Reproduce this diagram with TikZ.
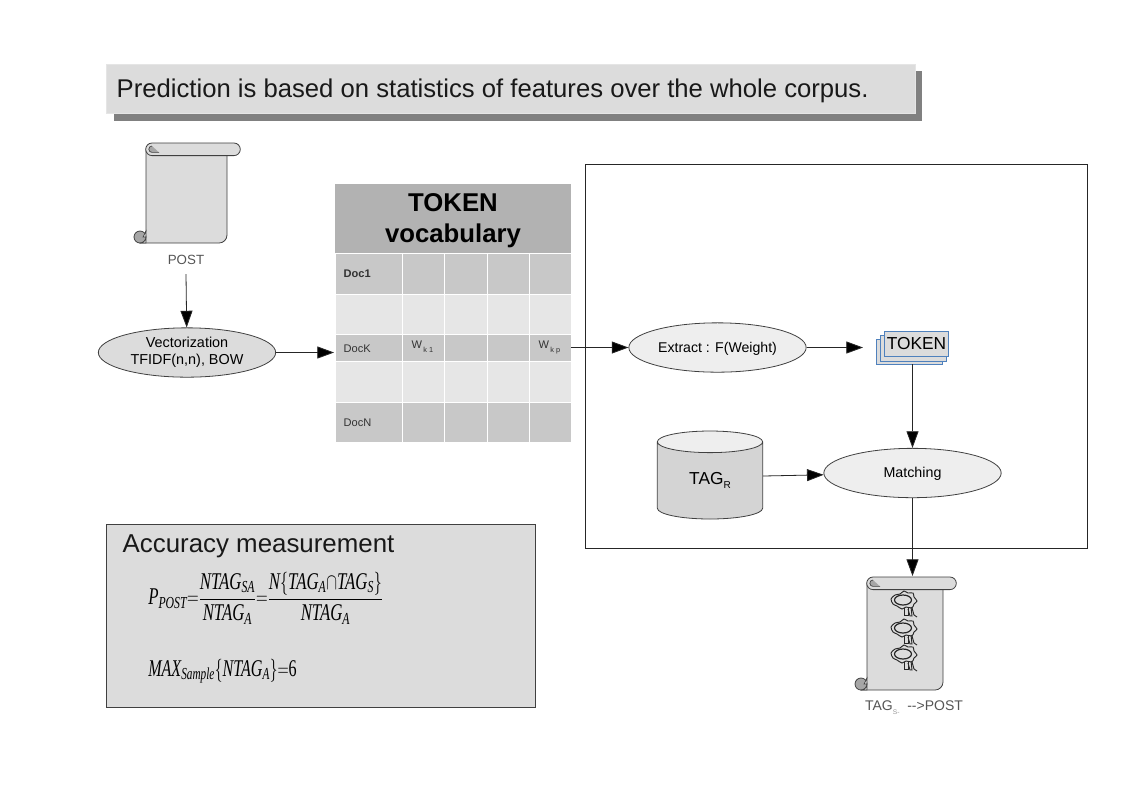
\documentclass[tikz,border=0pt]{standalone}
\usepackage{amsmath}
\usepackage{graphicx}
\usepackage{fontspec}
\setmainfont{Liberation Sans}
\newfontfamily\formfont{Liberation Serif}
\usetikzlibrary{arrows.meta,shapes.geometric}

\definecolor{boxgray}{HTML}{DCDCDC}
\definecolor{shadowgray}{HTML}{808080}
\definecolor{headgray}{HTML}{B2B2B2}
\definecolor{rowdark}{HTML}{C8C8C8}
\definecolor{rowlight}{HTML}{E6E6E6}
\definecolor{ovallight}{HTML}{EEEEEE}
\definecolor{labelgray}{HTML}{555555}
\definecolor{stackblue}{HTML}{4F81BD}

\tikzset{
  link/.style={draw=black!85,line width=0.6pt,-{Triangle[length=12.5pt,width=9pt,fill=black]}},
  oval/.style={ellipse,draw=black!75,line width=0.6pt,minimum width=133pt,minimum height=37pt,inner sep=0pt,align=center},
  stacksheet/.style={draw=stackblue,fill=boxgray,line width=0.6pt},
  cellname/.style={font=\fontsize{8.3pt}{10pt}\selectfont,text=black!80,anchor=west}
}

% x, y of the body corner, width, height of the body
\newcommand{\drawscroll}[4]{
\draw[fill=boxgray,draw=black!75,line width=0.6pt] (#1,#2+6) -- (#1+#3,#2+6) -- (#1+#3,#2+#4-8)
  arc[start angle=0,end angle=90,radius=8] -- (#1-6,#2+#4) -- (#1,#2+#4-12) -- cycle;
\draw[fill=black!35,draw=black!75,line width=0.6pt] (#1-6,#2+#4-6) circle[radius=6];
\draw[fill=boxgray,draw=black!75,line width=0.5pt] (#1,#2+#4-12) -- (#1,#2+#4) -- (#1-6,#2+#4)
  arc[start angle=90,end angle=0,radius=6] -- (#1-3,#2+#4-6) -- cycle;
\draw[fill=boxgray,draw=black!75,line width=0.6pt] (#1+6,#2) -- (#1+#3+7,#2) arc[start angle=270,end angle=450,radius=6.3]
  -- (#1+6,#2+12.6) arc[start angle=90,end angle=270,radius=6.3] -- cycle;
\draw[fill=black!35,draw=black!75,line width=0.5pt] (#1+6,#2+3) arc[start angle=270,end angle=90,radius=3.2] -- (#1+13,#2+9.4);
}

% one of the small figures on the lower scroll
\newcommand{\drawblob}[2]{
\begin{scope}[shift={(#1,#2)},draw=black!85,line width=0.7pt]
\draw plot[smooth cycle,tension=0.5] coordinates {(-13,-1) (-9,-5) (-4,-6) (0,-9) (4,-7) (9,-7) (10,-3) (13,1) (10,4) (8,8) (2,7) (-2,9) (-7,6) (-11,4)};
\draw[line width=0.9pt] (-1,0) ellipse[x radius=8.5,y radius=5];
\draw (0,8) -- (0,15) -- (4,15) -- (4,7);
\draw (4,9) -- (6,16) -- (8,16) -- (7,7);
\draw (8,8) -- (10,15) -- (13,17);
\end{scope}
}

\newcommand{\ft}[1]{\text{\formfont\itshape #1}}

\begin{document}
\begin{tikzpicture}[x=0.75pt,y=-0.75pt]
\useasboundingbox (0,0) rectangle (1123,794);
\fill[white] (0,0) rectangle (1123,794);

% title
\fill[shadowgray] (114,71) rectangle (922,121);
\draw[fill=boxgray,draw=black!10,line width=0.5pt] (106,64) rectangle (915,113);
\node[anchor=west,font=\fontsize{19.25pt}{24pt}\selectfont,text=black!90] (title) at (112,91) {Prediction is based on statistics of features over the whole corpus.};

% post
\drawscroll{146}{143}{81}{100}
\node[font=\fontsize{10pt}{12pt}\selectfont,text=labelgray] (post) at (186,260) {POST};
\node[oval,fill=boxgray,font=\fontsize{10.8pt}{12.5pt}\selectfont] (vector) at (187,352.5) {Vectorization\\TFIDF(n,n), BOW};
\draw[link] (post) ++(0,14) -- (vector);

% table
\fill[headgray] (335,184) rectangle (571,253);
\node[font=\bfseries\fontsize{19.3pt}{23pt}\selectfont,align=center] (vocab) at (453,221) {TOKEN\\vocabulary};
\foreach \ytop/\ybot/\rowcol in {253/294/rowdark,294/334.5/rowlight,334.5/361/rowdark,361/402/rowlight,402/442/rowdark}
  \foreach \xleft/\xright in {335/402.5,402.5/444.5,444.5/487,487/529.5,529.5/571}
    \draw[fill=\rowcol,draw=white,line width=0.7pt] (\xleft,\ytop) rectangle (\xright,\ybot);
\node[cellname,font=\bfseries\fontsize{8.3pt}{10pt}\selectfont] (doc1) at (339,273.5) {Doc1};
\node[cellname] (dock) at (339,348.5) {DocK};
\node[cellname] (docn) at (339,422.5) {DocN};
\node[cellname] (wk1) at (407,347) {W\raisebox{-3pt}{\fontsize{5.5pt}{6pt}\selectfont\,k 1}};
\node[cellname] (wkp) at (534,347) {W\raisebox{-3pt}{\fontsize{5.5pt}{6pt}\selectfont\,k p}};
\coordinate (tablein) at (334,352.5);
\coordinate (tableout) at (571,347.5);
\draw[link] (vector) -- (tablein);

% matching frame
\draw[draw=black!85,line width=0.6pt] (585,164) rectangle (1087,548);
\node[oval,fill=ovallight,font=\fontsize{10.6pt}{12pt}\selectfont] (extract) at (717.5,347.5) {\raisebox{-3.7pt}[0pt][0pt]{Extract : F(Weight)}};
\draw[link] (tableout) -- (extract);
\draw[stacksheet] (876,339) rectangle (942,364);
\draw[stacksheet] (880,335) rectangle (946,361);
\node[stacksheet,draw,minimum width=48pt,minimum height=19pt,inner sep=0pt,font=\fontsize{13pt}{15pt}\selectfont] (token) at (916.5,344) {TOKEN};
\coordinate (tokenin) at (863,347.5);
\coordinate (tokenout) at (912.5,364);
\draw[link] (extract) -- (tokenin);
\node[oval,fill=ovallight,font=\fontsize{10.7pt}{12pt}\selectfont] (matching) at (912.5,473) {\raisebox{-3.7pt}[0pt][0pt]{Matching}};
\draw[link] (tokenout) -- (matching);
\node[cylinder,shape border rotate=90,aspect=0.52,anchor=shape center,draw=black!75,line width=0.6pt,cylinder uses custom fill,cylinder body fill=black!17,cylinder end fill=ovallight,minimum width=79pt,minimum height=66pt,inner sep=0pt,font=\fontsize{13pt}{15pt}\selectfont] (tagr) at (710,475) {\raisebox{-3.15pt}[0pt][0pt]{TAG\raisebox{-3pt}{\fontsize{7.5pt}{9pt}\selectfont R}}};
\coordinate (tagrout) at (763,476);
\draw[link] (tagrout) -- (matching);

% lower scroll
\drawscroll{867}{577}{76}{113}
\drawblob{904}{600}
\drawblob{904}{628}
\drawblob{904}{654}
\coordinate (scrollin) at (912.5,576);
\draw[link] (matching) -- (scrollin);
\node[font=\fontsize{10.5pt}{12pt}\selectfont,text=labelgray] (tags) at (914,708) {TAG\raisebox{-3pt}{\fontsize{5pt}{6pt}\selectfont\color{black!40} S-}\ \ -{}->POST};

% accuracy
\draw[fill=boxgray,draw=black!75,line width=0.6pt] (106,524) rectangle (535,707);
\node[anchor=west,font=\fontsize{19.4pt}{22pt}\selectfont,text=black!90] (accuracy) at (118,546) {Accuracy measurement};
\node[anchor=west,inner sep=0pt] (ppost) at (148,598) {\scalebox{0.7}[1]{\fontsize{18pt}{21pt}\selectfont $\ft{P}_{\ft{POST}}{=}\dfrac{\ft{NTAG}_{\ft{SA}}}{\ft{NTAG}_{\ft{A}}}{=}\dfrac{\ft{N}{\left\{\ft{TAG}_{\ft{A}}{\cap}\ft{TAG}_{\ft{S}}\right\}}}{\ft{NTAG}_{\ft{A}}}$}};
\node[anchor=west,inner sep=0pt] (maxsample) at (148,671) {\scalebox{0.67}[1]{\fontsize{18pt}{21pt}\selectfont $\ft{MAX}_{\ft{Sample}}{\left\{\ft{NTAG}_{\ft{A}}\right\}}{=}\text{\formfont 6}$}};
\end{tikzpicture}
\end{document}
